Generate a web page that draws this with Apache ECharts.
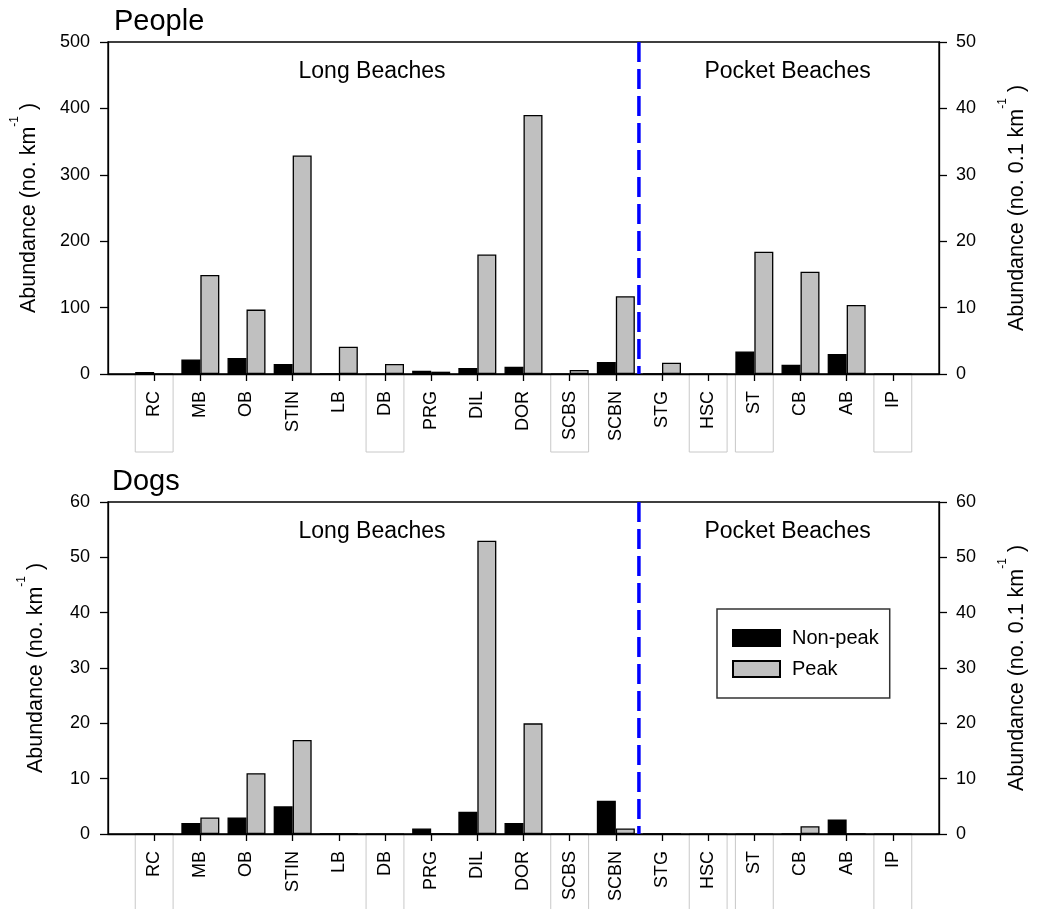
<!DOCTYPE html>
<html>
<head>
<meta charset="utf-8">
<script src="https://cdn.jsdelivr.net/npm/echarts@6/dist/echarts.min.js"></script>
<style>
  html, body { margin: 0; padding: 0; background: #fff; overflow: hidden; }
  #chart { width: 1045px; height: 909px; }
</style>
</head>
<body>
<div id="chart"></div>
<script>
// Beach sites, west to east; the first 11 are long beaches, the rest pocket beaches
const sites = ['RC', 'MB', 'OB', 'STIN', 'LB', 'DB', 'PRG', 'DIL', 'DOR', 'SCBS', 'SCBN',
               'STG', 'HSC', 'ST', 'CB', 'AB', 'IP'];
const longBeachCount = 11;
const boxedSites = ['RC', 'DB', 'SCBS', 'HSC', 'ST', 'IP'];

// People (no. per km)
const peopleNonPeak = [3, 22, 24, 15, 0, 0, 5, 9, 11, 0, 18, 0, 0, 34, 14, 30, 0];
const peoplePeak    = [0, 149, 97, 329, 41, 15, 3.5, 180, 390, 6, 117, 17, 0, 184, 154, 104, 0];

// Dogs (no. per km)
const dogsNonPeak = [0, 2, 3, 5, 0, 0, 1, 4, 2, 0, 6, 0, 0, 0, 0, 2.6, 0];
const dogsPeak    = [0, 3, 11, 17, 0, 0, 0, 53, 20, 0, 1, 0, 0, 0, 1.4, 0, 0];

// Axis tick values
const peopleLeftTicks  = [0, 100, 200, 300, 400, 500];
const peopleRightTicks = [0, 10, 20, 30, 40, 50];
const dogsLeftTicks    = [0, 10, 20, 30, 40, 50, 60];
const dogsRightTicks   = [0, 10, 20, 30, 40, 50, 60];

const seriesNames = ['Non-peak', 'Peak'];
const regionNames = ['Long Beaches', 'Pocket Beaches'];

const FONT = '"Liberation Sans", Arial, Helvetica, sans-serif';
const BLACK = '#000';
const GREY = '#c0c0c0';

// one blank slot at each end so the first/last site sit one step in from the frame
const axisCats = [' '].concat(sites, ['  ']);
const isSite = (idx, val) => val.trim() !== '';

function catAxis(gridIndex) {
  return {
    type: 'category', gridIndex, data: axisCats, boundaryGap: false,
    axisLine: { lineStyle: { color: BLACK, width: 1.3 } },
    axisTick: { show: true, length: 7, interval: isSite, lineStyle: { color: BLACK, width: 1.3 } },
    axisLabel: { rotate: 90, margin: 17, interval: isSite, fontSize: 18, color: BLACK, fontFamily: FONT },
    splitLine: { show: false }
  };
}
function hiddenValueX(gridIndex) {
  return { type: 'value', gridIndex, min: 0, max: axisCats.length - 1, show: false };
}
function valAxis(gridIndex, position, ticks, name, nameGap) {
  return {
    type: 'value', gridIndex, position,
    min: ticks[0], max: ticks[ticks.length - 1], interval: ticks[1] - ticks[0],
    axisLine: { show: true, lineStyle: { color: BLACK, width: 1.3 } },
    axisTick: { show: true, inside: false, length: 8, lineStyle: { color: BLACK, width: 1.3 } },
    axisLabel: { margin: position === 'left' ? 18 : 17, fontSize: 18, color: BLACK, fontFamily: FONT },
    splitLine: { show: false },
    name, nameLocation: 'middle', nameRotate: 90, nameGap,
    nameTextStyle: {
      fontSize: 21.5, color: BLACK, fontFamily: FONT, lineHeight: 40,
      rich: { sup: { fontSize: 12, lineHeight: 12, verticalAlign: 'top', color: BLACK, fontFamily: FONT } }
    }
  };
}

const leftName = 'Abundance (no. km{sup|-1} )';
const rightName = 'Abundance (no. 0.1 km{sup|-1} )';

function barSeries(name, xi, yi, values, color) {
  return {
    type: 'bar', name, xAxisIndex: xi, yAxisIndex: yi,
    data: sites.map((s, i) => [s, values[i]]),
    barWidth: 19, barGap: '0%',
    itemStyle: { color, borderColor: BLACK, borderWidth: 1.3 },
    emphasis: { disabled: true }
  };
}
function dividerSeries(xi, yi, top) {
  const x = longBeachCount + 0.5;
  return {
    type: 'line', xAxisIndex: xi, yAxisIndex: yi, silent: true, symbol: 'none', z: 5,
    data: [[x, top], [x, 0]],
    lineStyle: { color: '#0000ff', width: 3.5, type: [20, 7] }
  };
}

const option = {
  animation: false,
  backgroundColor: '#fff',
  title: [
    { text: 'People', left: 114, top: 7, padding: 0, textStyle: { fontSize: 29, fontWeight: 'normal', color: BLACK, fontFamily: FONT } },
    { text: 'Dogs', left: 112, top: 467, padding: 0, textStyle: { fontSize: 29, fontWeight: 'normal', color: BLACK, fontFamily: FONT } }
  ],
  grid: [
    { left: 108, right: 90, top: 42, height: 332, show: true, borderColor: BLACK, borderWidth: 1.3, backgroundColor: 'transparent' },
    { left: 108, right: 90, top: 502, height: 332, show: true, borderColor: BLACK, borderWidth: 1.3, backgroundColor: 'transparent' }
  ],
  xAxis: [catAxis(0), catAxis(1), hiddenValueX(0), hiddenValueX(1)],
  yAxis: [
    valAxis(0, 'left', peopleLeftTicks, leftName, 52),
    valAxis(0, 'right', peopleRightTicks, rightName, 58),
    valAxis(1, 'left', dogsLeftTicks, leftName, 52),
    valAxis(1, 'right', dogsRightTicks, rightName, 58)
  ],
  legend: {
    data: seriesNames, orient: 'vertical', left: 717, top: 609,
    icon: 'rect', itemWidth: 47, itemHeight: 16, itemGap: 11,
    padding: [19, 11, 19, 15],
    borderColor: '#333', borderWidth: 1.5,
    textStyle: { fontSize: 20, color: BLACK, fontFamily: FONT, padding: [0, 0, 0, 7] },
    selectedMode: false
  },
  series: [
    barSeries(seriesNames[0], 0, 0, peopleNonPeak, BLACK),
    barSeries(seriesNames[1], 0, 0, peoplePeak, GREY),
    barSeries(seriesNames[0], 1, 2, dogsNonPeak, BLACK),
    barSeries(seriesNames[1], 1, 2, dogsPeak, GREY),
    dividerSeries(2, 0, peopleLeftTicks[peopleLeftTicks.length - 1]),
    dividerSeries(3, 2, dogsLeftTicks[dogsLeftTicks.length - 1])
  ]
};

const chart = echarts.init(document.getElementById('chart'), null, { renderer: 'canvas' });
chart.setOption(option);

// site label frames under the axis and the beach-type captions
const graphics = [];
const panels = [
  { cat: 0, val: 2, y: 0, top: peopleLeftTicks[peopleLeftTicks.length - 1], frameDepth: 78 },
  { cat: 1, val: 3, y: 2, top: dogsLeftTicks[dogsLeftTicks.length - 1], frameDepth: 110 }
];
const captionAt = [5.72, 14.72];
panels.forEach(p => {
  const toPx = pt => chart.convertToPixel({ xAxisIndex: p.cat, yAxisIndex: p.y }, pt);
  const base = toPx([sites[0], 0])[1];
  const step = toPx([sites[1], 0])[0] - toPx([sites[0], 0])[0];
  boxedSites.forEach(s => {
    const cx = toPx([s, 0])[0];
    graphics.push({
      type: 'rect', silent: true, z: 0,
      shape: { x: cx - step * 0.41, y: base, width: step * 0.82, height: p.frameDepth },
      style: { fill: 'none', stroke: '#c8c8c8', lineWidth: 1 }
    });
  });
  regionNames.forEach((t, i) => {
    const pos = chart.convertToPixel({ xAxisIndex: p.val, yAxisIndex: p.y }, [captionAt[i], p.top * 0.912]);
    graphics.push({
      type: 'text', silent: true, x: pos[0], y: pos[1],
      style: { text: t, fill: BLACK, fontSize: 23, fontFamily: FONT,
               align: 'center', verticalAlign: 'middle', textAlign: 'center', textVerticalAlign: 'middle' }
    });
  });
});
chart.setOption({ graphic: graphics });
</script>
</body>
</html>
